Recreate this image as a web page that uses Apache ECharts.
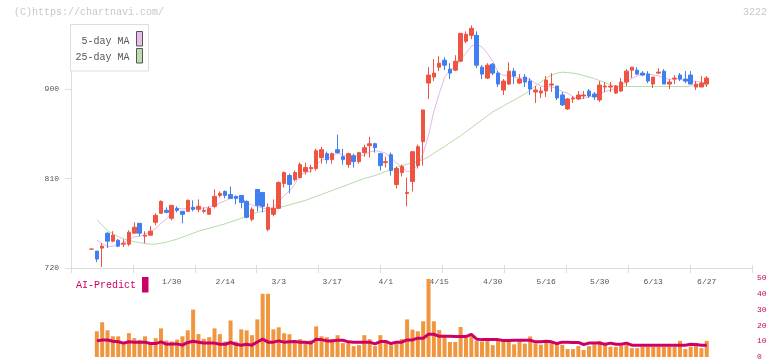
<!DOCTYPE html>
<html><head><meta charset="utf-8">
<script src="https://cdn.jsdelivr.net/npm/echarts@6/dist/echarts.min.js"></script>
<style>html,body{margin:0;padding:0;background:#fff}#c{width:772px;height:361px}</style>
</head><body><div id="c"></div>
<script>
const dates = [
"1/8","1/9","1/10","1/14","1/15","1/16","1/17","1/20","1/21","1/22","1/23","1/24","1/27","1/28","1/29","1/30","1/31",
"2/3","2/4","2/5","2/6","2/7","2/10","2/12","2/13","2/14","2/17","2/18","2/19","2/20","2/21","2/25","2/26","2/27","2/28",
"3/3","3/4","3/5","3/6","3/7","3/10","3/11","3/12","3/13","3/14","3/17","3/18","3/19","3/21","3/24","3/25","3/26","3/27","3/28","3/31",
"4/1","4/2","4/3","4/4","4/7","4/8","4/9","4/10","4/11","4/14","4/15","4/16","4/17","4/18","4/21","4/22","4/23","4/24","4/25","4/28","4/30",
"5/1","5/2","5/7","5/8","5/9","5/12","5/13","5/14","5/15","5/16","5/19","5/20","5/21","5/22","5/23","5/26","5/27","5/28","5/29","5/30",
"6/2","6/3","6/4","6/5","6/6","6/9","6/10","6/11","6/12","6/13","6/16","6/17","6/18","6/19","6/20","6/23","6/24","6/25","6/26","6/27"];
const tickLabels = ["1/30","2/14","3/3","3/17","4/1","4/15","4/30","5/16","5/30","6/13","6/27"];

const opens = [739,737,740,755,747,748,744,744,755,765,752,753,766,775,778,770,780,777,777,781,779,777,774,782,793,797,794,792,793,787,
769,799,796,759,774,780,805,813,809,811,817,820,820,831,835,829,839,832,824,833,827,836,843,845,835,826,834,804,816,795,
807,823,847,906,912,922,929,920,919,928,948,954,954,922,911,925,916,899,905,918,906,912,908,897,896,898,904,903,894,880,
890,890,893,898,895,889,902,902,896,898,907,919,919,916,915,905,916,918,905,910,914,910,914,902,902,905];
const closes = [739,729,742,747,753,742,745,756,761,755,753,757,773,787,776,783,778,774,788,779,782,778,780,792,795,793,790,790,786,771,
779,783,782,781,780,806,816,804,816,824,821,821,838,839,829,835,836,829,835,827,836,841,845,841,823,827,818,820,822,796,
837,842,879,914,916,926,924,916,928,956,955,961,924,915,924,916,905,908,918,913,910,907,900,899,898,909,905,891,884,890,
891,894,894,893,892,904,903,903,903,907,918,922,915,914,908,912,917,905,907,911,910,908,905,905,906,911];
const lows = [739,726,721,740,746,741,741,742,755,752,745,753,763,775,775,768,776,765,777,777,776,775,774,780,791,790,790,784,780,770,
767,777,776,757,772,779,801,795,807,810,814,816,818,825,825,825,835,824,821,821,825,832,831,836,818,821,813,800,812,782,
797,820,823,890,908,918,919,910,918,927,946,950,921,910,910,914,902,894,904,905,905,902,894,886,891,892,897,889,883,879,
886,889,890,891,889,887,897,897,895,897,903,911,914,913,906,901,915,905,900,905,908,906,905,899,902,902];
const highs = [739,737,745,756,757,749,749,758,766,765,757,762,775,788,781,783,782,777,789,788,789,781,782,799,797,798,802,793,793,788,
781,799,796,785,789,807,817,815,818,826,826,824,840,842,837,836,854,840,836,835,837,844,852,846,836,832,836,822,824,811,
837,844,879,922,930,933,932,926,934,956,958,964,958,924,926,926,918,910,927,921,915,915,911,903,902,913,916,903,897,891,
893,898,898,900,897,908,907,907,904,911,920,922,922,918,918,912,921,920,910,914,916,918,918,908,913,913];

const ma5 = [null,748,744.5,741.5,742,742.6,745.8,748.6,751.4,751.8,754,756.4,759.8,765,769.2,775.2,779.4,779.6,779.8,780.4,
780.2,780.2,781.4,782.2,785.4,787.6,790,792,790.8,786,783.2,781.8,780.2,779.2,781,786.4,793,797.4,804.4,813.2,
816.2,817.2,824,828.6,829.6,832.4,835.4,833.6,832.8,832.4,832.6,833.6,836.8,838,837.2,835.4,830.8,825.8,822,816.6,
818.6,823.4,835.2,853.6,877.6,895.4,911.8,919.2,922,930,935.8,943.2,944.8,942.2,935.8,928,916.8,913.6,914.2,912,
910.8,911.2,909.6,905.8,902.8,902.6,902.2,900.4,897.4,895.8,892.2,890,890.6,892.4,892.8,895.4,897.2,899,901,904,
906.8,910.6,913,915.2,915.4,914.2,913.2,911.2,909.8,910.4,910,908.2,908.2,907.8,906.8,907];
const ma25 = [null,768.7,763,757.5,754.5,751.5,749.5,748,746.5,745.5,744.5,744,744,745,746,747.5,749,751,753,755,
757,758.5,760,761.5,763,764.5,766.5,768,770,772,774,776,777,778,779.5,781,782,783.5,785,786.5,
788,790,792,794,796,798,800,802,804,806,808,810,811.5,813,815,817,819,821,823,824.5,
825.5,827,829,832,835.5,839,842,846,849.5,853,857,861,865,869,873,877,880,883,886,889,
892,895,899,903,907,911,914,916,917,916.5,916,915,913.5,912,910.5,908.5,906.5,904.5,903,902.5,
902.5,902.5,902.5,902.5,902.5,902.5,902.5,902.5,902.5,902.5,902.5,902.5,903,903.5,903.5,904];
const volume = [null,16.3,22,16.9,13.1,13.1,9.4,15.1,11.9,10.8,13.1,9.4,11.9,18.1,10.4,9.8,11,13.1,16.9,30,
14.5,11.5,12.5,18.1,14.5,9.8,23.1,9.8,17.5,16.9,13.8,23.8,40,40,17.5,18.8,15,14.4,8.8,11.3,
8.8,10.6,19.4,13.1,12.5,11.3,13.8,8.8,8.8,6.9,7.5,13.8,11.3,6.9,13.8,10,7.5,8.8,11.3,23.8,
17.3,16.3,22.6,49.4,22.6,17,14,9.5,9.5,19,12.4,14,10.1,9.8,10.9,7.5,11,11,11,8,
10,8.5,13,8.7,7.8,9.2,10,8.5,7.7,5,5,6.9,4.4,6.9,8.1,10.2,8.1,6.5,6.3,7.3,
7.7,5.6,5.6,6.5,6.5,6.5,6.5,6.5,6.5,6.5,10.2,5,6.5,7.7,5.6,10.2];
const aiPredict = [null,10.2,10.8,10.8,10,9.6,8.8,9.6,9.4,9.4,9.4,8.5,8.5,9.6,8.1,8.3,8.3,7.5,9.2,10,
9.4,8.8,8.8,8.8,8.1,8.1,9.2,8.1,7.5,8.1,7.5,9.5,11.3,9.4,9.4,10.2,9.4,9.6,9.8,9.4,
9.4,8.8,11.3,11,10.2,10.2,10.6,10.6,9.6,9.4,9.4,9.4,9.4,8.3,9.8,9.8,8.5,9.4,9.4,10.8,
10.8,11.9,11.9,14.4,14.4,13.1,13.1,13.1,12.9,12.9,12.9,14.4,11.3,11,11,11,11,10.4,10.4,10.6,
10.6,10.6,10.6,9.6,9.6,10,9.6,8.5,9.4,9.4,9.2,9.2,7.9,8.8,8.8,8.8,8.1,8.8,8.1,8.1,
8.8,7.5,7.5,7.5,7.5,7.5,7.5,7.5,7.5,7.5,7.5,7.5,8.1,7.9,7.5,7.5];
const yTicks = [720, 810, 900];

const FONT = '"Liberation Mono","DejaVu Sans Mono",monospace';
const RED = '#ef5342', BLUE = '#3f7fef', ORANGE = '#f0963f', CRIMSON = '#cc0066';
const PINK = '#e6b6e6', GREEN = '#b6dba6';
const candles = opens.map((o, i) => [o, closes[i], lows[i], highs[i]]);
const cLeft = 88.8, cWidth = 620.6;

const chart = echarts.init(document.getElementById('c'));
chart.setOption({
  animation: false,
  backgroundColor: '#fff',
  textStyle: { fontFamily: FONT },
  grid: [
    { left: 71, right: 20, top: 24, bottom: 93 },
    { left: cLeft, width: cWidth, top: 24, bottom: 93 },
    { left: cLeft, width: cWidth, top: 278, bottom: 3 }
  ],
  xAxis: [
    { gridIndex: 0, type: 'value', min: 0, max: 11, interval: 1, position: 'bottom',
      axisLine: { lineStyle: { color: '#dddddd', width: 1 } },
      axisTick: { length: 5, lineStyle: { color: '#dddddd' } },
      axisLabel: { show: false }, splitLine: { show: false } },
    { gridIndex: 0, type: 'value', min: 0, max: 11, interval: 1, position: 'bottom',
      axisLine: { show: false },
      axisTick: { inside: true, length: 3, lineStyle: { color: '#dddddd' } },
      axisLabel: { show: false }, splitLine: { show: false } },
    { gridIndex: 1, type: 'category', data: dates, boundaryGap: true,
      axisLine: { show: false }, axisTick: { show: false },
      axisLabel: { interval: (i, v) => tickLabels.includes(v), color: '#555', fontSize: 8, margin: 10, fontFamily: FONT },
      splitLine: { show: false } },
    { gridIndex: 2, type: 'category', data: dates, boundaryGap: true, show: false }
  ],
  yAxis: [
    { gridIndex: 0, type: 'value', min: 720, max: 965.4, interval: 90,
      axisLine: { show: true, lineStyle: { color: '#dddddd' } },
      axisTick: { show: true, length: 6, lineStyle: { color: '#dddddd' }, customValues: yTicks },
      axisLabel: { customValues: yTicks, color: '#555', fontSize: 8, margin: 12, fontFamily: FONT },
      splitLine: { show: false } },
    { gridIndex: 1, type: 'value', min: 720, max: 965.4, show: false },
    { gridIndex: 2, type: 'value', min: 0, max: 50, interval: 10, position: 'right', offset: 752 - (cLeft + cWidth),
      axisLine: { show: false }, axisTick: { show: false },
      axisLabel: { color: CRIMSON, fontSize: 8, margin: 5, fontFamily: FONT },
      splitLine: { show: false } }
  ],
  series: [
    { name: '5-day MA', type: 'line', xAxisIndex: 2, yAxisIndex: 1, data: ma5, symbol: 'none',
      lineStyle: { color: PINK, width: 1 }, z: 1 },
    { name: '25-day MA', type: 'line', xAxisIndex: 2, yAxisIndex: 1, data: ma25, symbol: 'none',
      lineStyle: { color: GREEN, width: 1 }, z: 1 },
    { type: 'candlestick', xAxisIndex: 2, yAxisIndex: 1, data: candles, barWidth: 4,
      itemStyle: { color: RED, color0: BLUE, borderColor: RED, borderColor0: BLUE, borderWidth: 1 }, z: 2 },
    { type: 'bar', xAxisIndex: 3, yAxisIndex: 2, data: volume, barWidth: 4,
      itemStyle: { color: ORANGE }, z: 1 },
    { name: 'AI-Predict', type: 'line', xAxisIndex: 3, yAxisIndex: 2, data: aiPredict, symbol: 'none',
      lineStyle: { color: CRIMSON, width: 3 }, z: 3 }
  ],
  graphic: [
    { type: 'text', x: 14, y: 12, style: { text: '(C)https://chartnavi.com/', fill: '#c8c8c8', font: '10px ' + FONT, align: 'left', verticalAlign: 'middle' } },
    { type: 'text', x: 767, y: 12, style: { text: '3222', fill: '#c8c8c8', font: '10px ' + FONT, align: 'right', verticalAlign: 'middle' } },
    { type: 'rect', z: 100, shape: { x: 70.5, y: 24.5, width: 78, height: 46.5 }, style: { fill: '#fff', stroke: '#dddddd', lineWidth: 1 } },
    { type: 'text', z: 101, x: 129.5, y: 41, style: { text: '5-day MA', fill: '#555', font: '10px ' + FONT, align: 'right', verticalAlign: 'middle' } },
    { type: 'rect', z: 101, shape: { x: 136.5, y: 31.5, width: 6, height: 14.5 }, style: { fill: '#e8bce8', stroke: '#555', lineWidth: 1 } },
    { type: 'text', z: 101, x: 129.5, y: 57, style: { text: '25-day MA', fill: '#555', font: '10px ' + FONT, align: 'right', verticalAlign: 'middle' } },
    { type: 'rect', z: 101, shape: { x: 136.5, y: 48.5, width: 6, height: 14.5 }, style: { fill: '#bcdcb0', stroke: '#555', lineWidth: 1 } },
    { type: 'text', z: 101, x: 76, y: 285, style: { text: 'AI-Predict', fill: CRIMSON, font: '10px ' + FONT, align: 'left', verticalAlign: 'middle' } },
    { type: 'rect', z: 101, shape: { x: 142, y: 277, width: 6.5, height: 15.5 }, style: { fill: CRIMSON } }
  ]
});
</script>
</body></html>
